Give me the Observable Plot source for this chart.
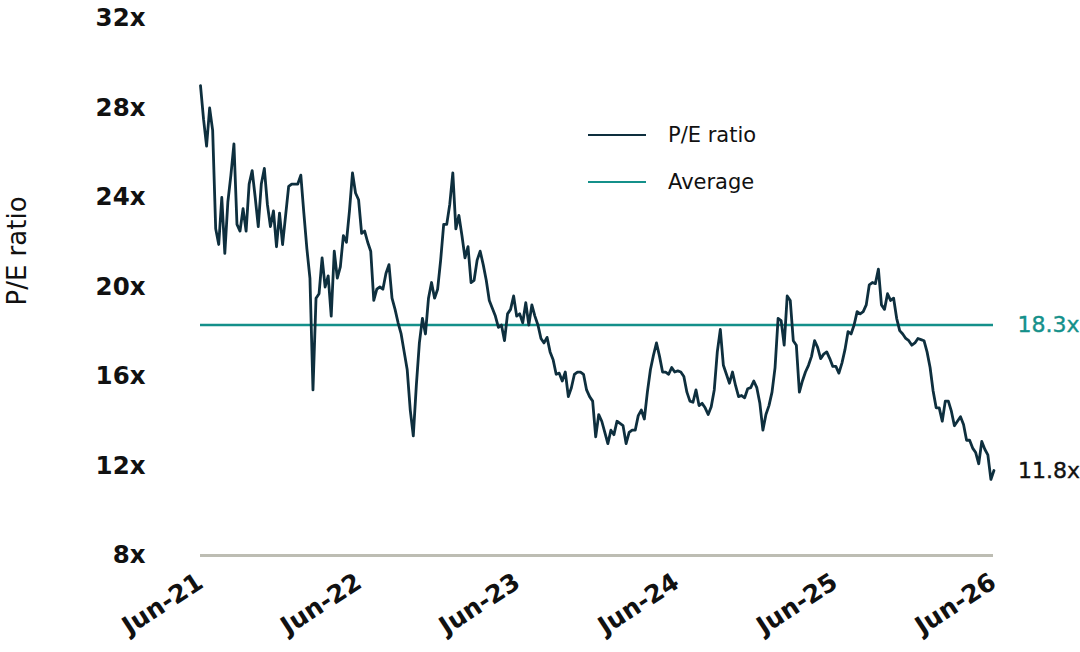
<!DOCTYPE html>
<html>
<head>
<meta charset="utf-8">
<script src="https://cdn.jsdelivr.net/npm/d3@7"></script>
<script src="https://cdn.jsdelivr.net/npm/@observablehq/plot@0.6"></script>
<style>
  body { margin: 0; background: #ffffff; }
  #wrap { position: relative; width: 1080px; height: 652px; overflow: hidden; }
  .legend { position: absolute; left: 588px; top: 111px; font-family: "DejaVu Sans", sans-serif; font-size: 21px; color: #111; }
  .legend .item { display: flex; align-items: center; height: 47px; }
  .legend .sw { width: 58px; height: 0; border-top: 2.5px solid; margin-right: 22px; }
</style>
</head>
<body>
<div id="wrap"></div>
<script>
// ---- data ----
const startDate = "2021-06-01";          // first weekly observation
const stepDays = 7;                        // weekly sampling
const peValues = [
  29.0, 27.5, 26.3, 28.0, 27.0, 22.6, 21.9, 24.0, 21.5, 23.8,
  25.0, 26.4, 22.8, 22.5, 23.5, 22.5, 24.6, 25.2, 24.0, 22.7,
  24.6, 25.3, 23.7, 22.7, 23.4, 21.8, 23.3, 21.9, 23.2, 24.5,
  24.6, 24.6, 24.6, 25.0, 23.3, 21.7, 20.4, 15.4, 19.5, 19.7,
  21.3, 20.0, 20.5, 18.7, 21.6, 20.4, 20.9, 22.3, 22.0, 23.4,
  25.1, 24.2, 23.9, 22.4, 22.5, 22.0, 21.6, 19.4, 19.9, 20.0,
  19.9, 20.6, 21.0, 19.5, 19.0, 18.4, 17.9, 17.1, 16.3, 14.5,
  13.35, 15.6, 17.5, 18.6, 17.9, 19.5, 20.2, 19.5, 19.9, 21.2,
  22.8, 22.8, 23.7, 25.1, 22.6, 23.2, 22.3, 21.3, 21.8, 20.2,
  20.3, 21.2, 21.6, 21.0, 20.3, 19.4, 19.05, 18.7, 18.2, 18.3,
  17.6, 18.8, 19.0, 19.6, 18.7, 18.8, 18.4, 19.3, 18.3, 19.2,
  18.7, 18.3, 17.7, 17.5, 17.75, 17.1, 16.75, 16.1, 16.15, 15.8,
  16.2, 15.1, 15.5, 16.1, 16.2, 16.2, 16.1, 15.4, 15.1, 14.9,
  13.3, 14.3, 14.0, 13.5, 13.0, 13.6, 13.4, 14.0, 13.9, 13.8,
  13.0, 13.5, 13.6, 13.6, 14.25, 14.5, 14.1, 15.3, 16.3, 16.95,
  17.5, 16.9, 16.2, 16.2, 16.1, 16.4, 16.2, 16.25, 16.2, 16.0,
  15.3, 14.9, 14.85, 15.4, 14.7, 14.8, 14.6, 14.3, 14.65, 15.4,
  17.1, 18.1, 16.5, 16.1, 15.7, 16.2, 15.6, 15.1, 15.15, 15.05,
  15.45, 15.5, 15.8, 15.5, 14.8, 13.6, 14.3, 14.7, 15.3, 16.4,
  18.6, 18.5, 17.4, 19.6, 19.4, 17.6, 17.4, 15.3, 15.8, 16.2,
  16.5, 16.9, 17.6, 17.3, 16.8, 17.0, 17.1, 16.8, 16.45, 16.45,
  16.15, 16.6, 17.2, 18.0, 17.9, 18.3, 18.9, 18.8, 18.9, 19.2,
  20.1, 20.2, 20.15, 20.8, 19.2, 19.0, 19.7, 19.4, 19.5, 18.6,
  18.05, 17.9, 17.7, 17.6, 17.4, 17.5, 17.7, 17.65, 17.6, 17.1,
  16.4, 15.35, 14.6, 14.6, 14.0, 14.9, 14.9, 14.45, 13.8, 14.0,
  14.2, 13.85, 13.15, 13.15, 12.8, 12.6, 12.1, 13.1, 12.75, 12.5,
  11.4, 11.8
];
const averagePE = 18.3;
const xTickDates = ["2021-06-01", "2022-06-01", "2023-06-01", "2024-06-01", "2025-06-01", "2026-06-01"];
const yTicks = [8, 12, 16, 20, 24, 28, 32];
const seriesNames = ["P/E ratio", "Average"];
const yAxisTitle = "P/E ratio";

// ---- colours ----
const navy = "#0e2f3e";
const teal = "#14908a";
const axisGray = "#bdbdb3";

// ---- build table ----
const t0 = new Date(startDate + "T00:00:00Z");
const series = peValues.map((v, i) => ({ date: d3.utcDay.offset(t0, i * stepDays), pe: v }));
const last = series[series.length - 1];
const xTicks = xTickDates.map(s => new Date(s + "T00:00:00Z"));
const xDomain = [xTicks[0], xTicks[xTicks.length - 1]];

const chart = Plot.plot({
  width: 1080,
  height: 652,
  marginLeft: 200,
  marginRight: 87,
  marginTop: 18,
  marginBottom: 97,
  style: { fontFamily: "DejaVu Sans, sans-serif", background: "#ffffff", overflow: "visible", color: "#111" },
  x: { type: "utc", domain: xDomain },
  y: { domain: [8, 32] },
  marks: [
    Plot.ruleY([8], { stroke: axisGray, strokeWidth: 3 }),
    Plot.axisY({ ticks: yTicks, tickFormat: d => d + "x", tickSize: 0, tickPadding: 55, label: null,
      fontSize: 24.5, fontWeight: "bold", fill: "#111" }),
    Plot.axisX({ ticks: xTicks, tickFormat: d3.utcFormat("%b-%y"), tickSize: 0, tickPadding: 24,
      tickRotate: -33, label: null, fontSize: 25, fontWeight: "bold", fill: "#111" }),
    Plot.ruleY([averagePE], { stroke: teal, strokeWidth: 2.5 }),
    Plot.line(series, { x: "date", y: "pe", stroke: navy, strokeWidth: 2.8, strokeLinejoin: "round" }),
    Plot.text([{ date: xDomain[1], v: averagePE }], { x: "date", y: "v", text: d => d.v.toFixed(1) + "x",
      textAnchor: "start", dx: 24, fill: teal, fontSize: 22, stroke: teal, strokeWidth: 0.4 }),
    Plot.text([last], { x: "date", y: "pe", text: d => d.pe.toFixed(1) + "x",
      textAnchor: "start", dx: 24, fill: "#111", fontSize: 22, stroke: "#111", strokeWidth: 0.4 }),
    Plot.text([yAxisTitle], { text: d => d, frameAnchor: "left", textAnchor: "middle", dx: -183, dy: -36, rotate: -90,
      fontSize: 26, fill: "#111" })
  ]
});

const wrap = document.getElementById("wrap");
wrap.appendChild(chart);

// legend inside the plot area
const legend = document.createElement("div");
legend.className = "legend";
[[seriesNames[0], navy], [seriesNames[1], teal]].forEach(([name, col]) => {
  const item = document.createElement("div");
  item.className = "item";
  const sw = document.createElement("span");
  sw.className = "sw";
  sw.style.borderTopColor = col;
  const lab = document.createElement("span");
  lab.textContent = name;
  item.appendChild(sw);
  item.appendChild(lab);
  legend.appendChild(item);
});
wrap.appendChild(legend);
</script>
</body>
</html>
